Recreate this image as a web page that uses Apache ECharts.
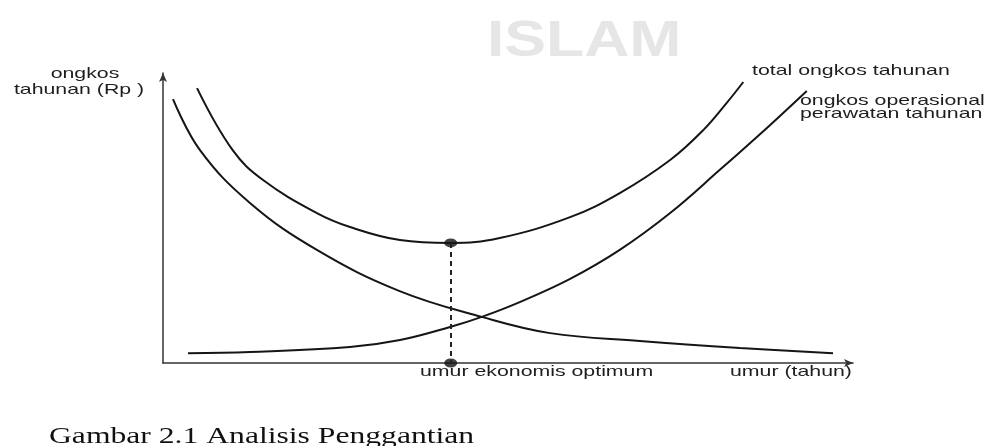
<!DOCTYPE html>
<html>
<head>
<meta charset="utf-8">
<script src="https://cdn.jsdelivr.net/npm/echarts@6/dist/echarts.min.js"></script>
<style>
  html, body { margin: 0; padding: 0; background: #fff; }
  #chart { width: 1006px; height: 446px; }
</style>
</head>
<body>
<div id="chart"></div>
<script>
// titik: [umur, ongkos] pada skala 0..100
var capitalCost = [[1.45, 91.0], [5.36, 73.4], [12.6, 55.2], [22.3, 39.0], [34.3, 24.8],
    [46.2, 15.9], [56.1, 10.3], [69.1, 7.6], [83.6, 5.2], [97.1, 3.4]];
var operCost = [[3.62, 3.4], [12.6, 3.8], [27.1, 5.5], [34.35, 7.9], [41.6, 12.4], [46.2, 15.9],
    [51.7, 21.0], [59.0, 29.0], [66.2, 39.0], [73.5, 51.7], [80.7, 66.6], [88.0, 82.1], [93.3, 93.8]];
var totalCost = [[4.93, 94.8], [10.1, 73.4], [14.5, 63.1], [22.3, 51.7], [27.1, 46.9], [34.35, 42.4],
    [41.7, 41.4], [48.8, 43.1], [59.0, 50.3], [66.2, 58.6], [73.5, 70.0], [78.3, 80.3], [81.7, 89.7], [84.1, 96.9]];
var optimumAge = 41.7;
var optimumCost = 41.4;

var labels = {
    yName: ['ongkos', 'tahunan (Rp )'],
    total: 'total ongkos tahunan',
    oper: ['ongkos operasional', 'perawatan tahunan'],
    optimum: 'umur ekonomis optimum',
    xName: 'umur (tahun)',
    caption: 'Gambar 2.1 Analisis Penggantian'
};

var chart = echarts.init(document.getElementById('chart'));

var SX = 1.42; // gambar hasil scan agak melebar
var sans = '15px "Liberation Sans", Arial, sans-serif';

function txt(str, x, y, align) {
    return {
        type: 'text',
        x: x,
        y: y,
        scaleX: SX,
        silent: true,
        style: {
            text: str,
            font: sans,
            fill: '#1e1e1e',
            align: align || 'left',
            verticalAlign: 'middle'
        }
    };
}

var curve = {
    type: 'line',
    smooth: 0.4,
    showSymbol: false,
    symbol: 'none',
    silent: true,
    lineStyle: { color: '#151515', width: 2 }
};

var option = {
    backgroundColor: '#fff',
    animation: false,
    grid: { left: 163, right: 153, top: 73, bottom: 83 },
    xAxis: {
        type: 'value',
        min: 0,
        max: 100,
        axisLine: {
            onZero: false,
            symbol: ['none', 'arrow'],
            symbolSize: [6, 9],
            lineStyle: { color: '#333', width: 1.5 }
        },
        axisTick: { show: false },
        axisLabel: { show: false },
        splitLine: { show: false }
    },
    yAxis: {
        type: 'value',
        min: 0,
        max: 100,
        axisLine: {
            show: true,
            onZero: false,
            symbol: ['none', 'arrow'],
            symbolSize: [6, 9],
            lineStyle: { color: '#333', width: 1.5 }
        },
        axisTick: { show: false },
        axisLabel: { show: false },
        splitLine: { show: false }
    },
    series: [
        Object.assign({}, curve, { name: 'capital', data: capitalCost }),
        Object.assign({}, curve, { name: 'operasional', data: operCost }),
        Object.assign({}, curve, {
            name: 'total',
            data: totalCost,
            markLine: {
                silent: true,
                symbol: 'none',
                label: { show: false },
                lineStyle: { color: '#222', width: 2, type: [5, 4] },
                data: [[{ coord: [optimumAge, optimumCost] }, { coord: [optimumAge, 0] }]]
            }
        }),
        {
            type: 'scatter',
            silent: true,
            symbol: 'circle',
            symbolSize: [13, 9],
            itemStyle: { color: '#111' },
            data: [[optimumAge, optimumCost], [optimumAge, 0]]
        }
    ],
    graphic: [
        {
            type: 'text',
            x: 487,
            y: 42,
            scaleX: 1.25,
            silent: true,
            z: -10,
            style: {
                text: 'ISLAM',
                font: 'bold 50px "Liberation Sans", Arial, sans-serif',
                fill: '#e6e6e6',
                align: 'left',
                verticalAlign: 'middle'
            }
        },
        txt(labels.yName[0], 85, 74, 'center'),
        txt(labels.yName[1], 79, 90, 'center'),
        txt(labels.total, 752, 71),
        txt(labels.oper[0], 800, 101),
        txt(labels.oper[1], 800, 114),
        txt(labels.optimum, 420, 372),
        txt(labels.xName, 730, 372),
        {
            type: 'text',
            x: 49,
            y: 437,
            scaleX: 1.4,
            silent: true,
            style: {
                text: labels.caption,
                font: '22.6px "Liberation Serif", "Times New Roman", serif',
                fill: '#111',
                align: 'left',
                verticalAlign: 'middle'
            }
        }
    ]
};

chart.setOption(option);
</script>
</body>
</html>
